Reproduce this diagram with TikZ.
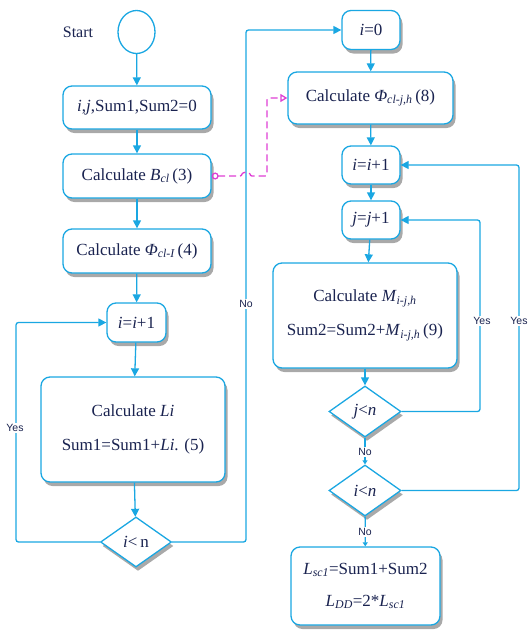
\documentclass[tikz,border=0pt]{standalone}
\usepackage{fontspec}
\setmainfont{Liberation Serif}
\setsansfont{Liberation Sans}
\usetikzlibrary{arrows.meta,shapes.geometric,shadows}
\definecolor{lblue}{HTML}{1AA7E2}
\definecolor{txt}{HTML}{1A2350}
\definecolor{mag}{HTML}{DE3FD4}
\newcommand\sbs[1]{\textsubscript{\itshape #1}}
\newcommand\bigtxt{\fontsize{17}{19}\selectfont}
\tikzset{
  box/.style={draw=lblue, line width=1.3pt, fill=white, rounded corners=9pt, inner sep=0pt,
     text=txt, align=center, font=\bigtxt,
     drop shadow={shadow xshift=2.5pt, shadow yshift=-4pt, opacity=0.45, fill=black!75}},
  dia/.style={draw=lblue, line width=1.3pt, fill=white, diamond, inner sep=0pt, aspect=1.4,
     text=txt, font=\bigtxt,
     drop shadow={shadow xshift=2pt, shadow yshift=-4pt, opacity=0.45, fill=black!75}},
  arr/.style={draw=lblue, line width=1.3pt, -{Triangle[width=8pt,length=8pt]}, rounded corners=2.5pt},
  lbl/.style={fill=white, inner sep=1.2pt, text=txt, font=\sffamily\fontsize{10.5}{12}\selectfont}
}
\begin{document}
\begin{tikzpicture}[x=1pt,y=-1pt]
\useasboundingbox (0,0) rectangle (529,630);
% left column
\node[draw=lblue, line width=1.3pt, fill=white, ellipse, minimum width=37pt, minimum height=43pt] (start) at (136.5,32) {};
\node[text=txt, font=\fontsize{16}{18}\selectfont] (startlbl) at (78,32) {Start};
\node[box, minimum width=148pt, minimum height=43pt] (init) at (137,107.5) {\textit{i},\textit{j},Sum1,Sum2=0};
\node[box, minimum width=148pt, minimum height=44pt] (bcl) at (137,176) {Calculate \textit{B}\sbs{cl}\,(3)};
\node[box, minimum width=148pt, minimum height=44pt] (phi) at (137,251) {Calculate \textit{Φ}\sbs{cl-I}\,(4)};
\node[box, minimum width=59pt, minimum height=39pt] (inc1) at (136.5,322.5) {\textit{i}=\textit{i}+1};
\node[box, minimum width=184pt, minimum height=105pt] (li) at (133,429.5) {Calculate \textit{Li}\\[15pt]Sum1=Sum1+\textit{Li}. (5)};
\node[dia, minimum width=71pt, minimum height=50pt] (d1) at (136,542) {\textit{i}<\,n};
% right column
\node[box, minimum width=58pt, minimum height=39pt] (i0) at (371,30) {\textit{i}=0};
\node[box, minimum width=165pt, minimum height=52pt] (phij) at (370.5,98) {Calculate \textit{Φ}\sbs{cl-j,h}\,(8)};
\node[box, minimum width=58pt, minimum height=38pt] (inci) at (371,165) {\textit{i}=\textit{i}+1};
\node[box, minimum width=58pt, minimum height=38pt] (incj) at (371,220) {\textit{j}=\textit{j}+1};
\node[box, minimum width=184pt, minimum height=105pt] (m) at (365,315.5) {Calculate \textit{M}\sbs{i-j,h}\\[15pt]Sum2=Sum2+\textit{M}\sbs{i-j,h}\,(9)};
\node[dia, minimum width=72pt, minimum height=51pt] (d2) at (365,411.5) {\textit{j}<\textit{n}};
\node[dia, minimum width=72pt, minimum height=51pt] (d3) at (365,490.5) {\textit{i}<\textit{n}};
\node[box, minimum width=149pt, minimum height=78pt] (fin) at (365.5,586) {\textit{L}\sbs{sc1}=Sum1+Sum2\\[13pt]\textit{L}\sbs{DD}=2*\textit{L}\sbs{sc1}};
% connectors
\draw[arr] (start) -- (init);
\draw[arr] (init) -- (bcl);
\draw[arr] (bcl) -- (phi);
\draw[arr] (phi) -- (inc1);
\draw[arr] (inc1) -- (li);
\draw[arr] (li) -- (d1);
\draw[arr] (d1.west) -- (16,542) |- (inc1.west);
\node[lbl] (yes1) at (15,428) {Yes};
\draw[arr] (d1.east) -- (246,542) |- (i0.west);
\node[lbl] (no1) at (246,304) {No};
\draw[arr] (i0) -- (phij);
\draw[arr] (phij) -- (inci);
\draw[arr] (inci) -- (incj);
\draw[arr] (incj) -- (m);
\draw[arr] (m) -- (d2);
\draw[arr, -{Triangle[width=5pt,length=4pt]}] (d2) -- (d3);
\node[lbl] (no2) at (365,452) {No};
\draw[arr, -{Triangle[width=5pt,length=4pt]}] (d3) -- (fin);
\node[lbl] (no3) at (365,532) {No};
\draw[arr] (d2.east) -- (480,411.5) |- (incj.east);
\node[lbl] (yes2) at (482,321) {Yes};
\draw[arr] (d3.east) -- (519,490.5) |- (inci.east);
\node[lbl] (yes3) at (519,321) {Yes};
% dashed magenta link
\draw[draw=mag, line width=1.3pt, dash pattern=on 7pt off 4pt, rounded corners=2pt, {Circle[open,length=7pt,width=7pt]}-{Triangle[open,length=7pt,width=8pt]}]
  (bcl.east) -- (242,176) arc[start angle=180, end angle=0, radius=4pt] -- (267,176) -- (267,98) -- (phij.west);
\end{tikzpicture}
\end{document}
